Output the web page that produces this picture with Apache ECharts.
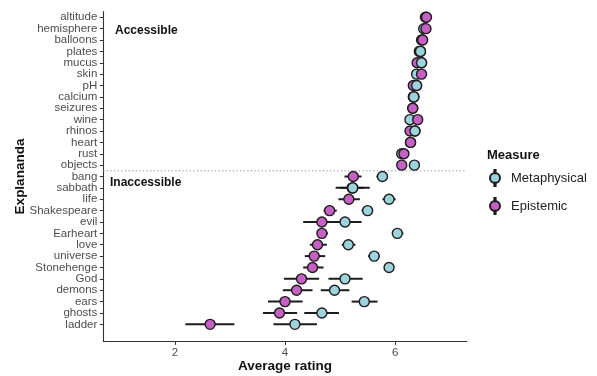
<!DOCTYPE html>
<html>
<head>
<meta charset="utf-8">
<script src="https://cdn.jsdelivr.net/npm/echarts@6/dist/echarts.min.js"></script>
<style>
html,body{margin:0;padding:0;background:#fff;}
#chart{width:597px;height:376px;}
</style>
</head>
<body>
<div id="chart"></div>
<script>
const categories = ['altitude','hemisphere','balloons','plates','mucus','skin','pH','calcium','seizures','wine','rhinos','heart','rust','objects','bang','sabbath','life','Shakespeare','evil','Earheart','love','universe','Stonehenge','God','demons','ears','ghosts','ladder'];

const metaMean = [6.55,6.52,6.48,6.46,6.48,6.39,6.39,6.34,6.32,6.27,6.36,6.28,6.12,6.35,5.77,5.23,5.89,5.50,5.09,6.04,5.15,5.62,5.89,5.09,4.90,5.44,4.67,4.18];
const metaLo   = [6.49,6.46,6.42,6.40,6.42,6.33,6.33,6.28,6.26,6.21,6.30,6.22,6.06,6.29,5.66,4.92,5.77,5.39,4.79,5.95,5.03,5.51,5.81,4.79,4.65,5.21,4.35,3.79];
const metaHi   = [6.61,6.58,6.54,6.52,6.54,6.45,6.45,6.40,6.38,6.33,6.42,6.34,6.18,6.41,5.87,5.54,6.01,5.60,5.39,6.15,5.28,5.72,5.98,5.41,5.17,5.68,4.98,4.58];

const epiMean = [6.57,6.56,6.50,6.44,6.40,6.48,6.33,6.33,6.32,6.41,6.27,6.28,6.16,6.12,5.24,5.22,5.16,4.81,4.67,4.67,4.59,4.53,4.50,4.30,4.21,4.00,3.90,2.64];
const epiLo   = [6.51,6.50,6.44,6.38,6.34,6.42,6.27,6.27,6.26,6.35,6.21,6.22,6.10,6.06,5.08,5.00,4.97,4.70,4.33,4.58,4.45,4.36,4.33,3.98,3.96,3.69,3.60,2.19];
const epiHi   = [6.63,6.62,6.56,6.50,6.46,6.54,6.39,6.39,6.38,6.47,6.33,6.34,6.22,6.18,5.39,5.44,5.36,4.94,5.01,4.78,4.76,4.73,4.70,4.62,4.50,4.32,4.22,3.08];

// rows where the Metaphysical point is drawn above the Epistemic one
const metaOnTop = ['plates','mucus','pH','calcium','rhinos','sabbath'];

// the dotted separator runs between these two rows
const separatorRows = ['objects', 'bang'];

const xTicks = [2, 4, 6];
const groupLabels = ['Accessible', 'Inaccessible'];

const META_COLOR = '#9dd3dc';
const EPI_COLOR = '#c660c5';
const EDGE = '#1c1c1c';
const FONT = '"Liberation Sans", Arial, Helvetica, sans-serif';

// one empty band below the last row reproduces the reference's bottom padding
const yCats = categories.concat(['']);

const metaPts = metaMean.map((v, i) => [v, i]);
const epiPts = epiMean.map((v, i) => [v, i]);
const metaTopPts = metaMean.map((v, i) => [v, i]).filter(p => metaOnTop.includes(categories[p[1]]));
const metaBars = metaMean.map((v, i) => [metaLo[i], metaHi[i], i]);
const epiBars = epiMean.map((v, i) => [epiLo[i], epiHi[i], i]);
const sepData = [[categories.indexOf(separatorRows[0]), categories.indexOf(separatorRows[1])]];

function barRender(params, api) {
  const y = api.value(2);
  const a = api.coord([api.value(0), y]);
  const b = api.coord([api.value(1), y]);
  return {type: 'line', shape: {x1: a[0], y1: a[1], x2: b[0], y2: b[1]},
          style: {stroke: EDGE, lineWidth: 2}};
}

function sepRender(params, api) {
  const cs = params.coordSys;
  const y0 = api.coord([xTicks[0], api.value(0)])[1];
  const y1 = api.coord([xTicks[0], api.value(1)])[1];
  const y = (y0 + y1) / 2;
  return {type: 'line', shape: {x1: cs.x, y1: y, x2: cs.x + cs.width, y2: y},
          style: {stroke: '#8a8a8a', lineWidth: 1, lineDash: [1.2, 2.4]}};
}

const legendIcon = 'path://M4.4,0 H5.6 V3.2 H4.4 Z M0,8 A5,5 0 1 0 10,8 A5,5 0 1 0 0,8 Z M4.4,12.8 H5.6 V16 H4.4 Z';

const chart = echarts.init(document.getElementById('chart'), null, {renderer: 'canvas'});
const option = {
  animation: false,
  backgroundColor: '#ffffff',
  textStyle: {fontFamily: FONT},
  grid: {left: 103.3, right: 130.3, top: 11.6, bottom: 34.6, containLabel: false, outerBoundsMode: 'none'},
  xAxis: {
    type: 'value', min: 0.7, max: 7.3, position: 'bottom',
    name: 'Average rating', nameLocation: 'middle', nameGap: 18, nameMoveOverlap: false,
    nameTextStyle: {fontFamily: FONT, fontSize: 13.5, fontWeight: 'bold', color: '#111'},
    axisLine: {show: true, onZero: false, lineStyle: {color: '#333', width: 1.1}},
    axisTick: {show: true, length: 3.5, lineStyle: {color: '#333'}, customValues: xTicks},
    axisLabel: {customValues: xTicks, fontFamily: FONT, fontSize: 11.5, color: '#4d4d4d', margin: 5},
    splitLine: {show: false}
  },
  yAxis: {
    type: 'category', data: yCats, inverse: true, position: 'left',
    name: 'Explananda', nameLocation: 'middle', nameGap: 76, nameRotate: 90, nameMoveOverlap: false,
    nameTextStyle: {fontFamily: FONT, fontSize: 13.5, fontWeight: 'bold', color: '#111'},
    axisLine: {show: true, onZero: false, lineStyle: {color: '#333', width: 1.1}},
    axisTick: {show: true, length: 3.5, alignWithLabel: true, lineStyle: {color: '#333'},
               interval: (index, value) => value !== ''},
    axisLabel: {interval: 0, fontFamily: FONT, fontSize: 11.5, color: '#4d4d4d', margin: 6},
    splitLine: {show: false}
  },
  legend: {
    data: ['Metaphysical', 'Epistemic'],
    orient: 'vertical', left: 484, top: 164,
    itemWidth: 10, itemHeight: 16, itemGap: 10,
    icon: legendIcon,
    textStyle: {fontFamily: FONT, fontSize: 13, color: '#222', padding: [0, 0, 0, 6]}
  },
  graphic: [
    {type: 'text', left: 487, top: 149, style: {text: 'Measure', font: 'bold 13px ' + FONT, fill: '#111'}},
    {type: 'text', left: 115, top: 25, style: {text: groupLabels[0], font: 'bold 12px ' + FONT, fill: '#111'}},
    {type: 'text', left: 110, top: 177, style: {text: groupLabels[1], font: 'bold 12px ' + FONT, fill: '#111'}}
  ],
  series: [
    {type: 'custom', name: 'separator', renderItem: sepRender, data: sepData,
     encode: {y: [0, 1]}, z: 1, silent: true, clip: false},
    {type: 'custom', name: 'metaBars', renderItem: barRender, data: metaBars,
     encode: {x: [0, 1], y: 2}, z: 2, silent: true},
    {type: 'custom', name: 'epiBars', renderItem: barRender, data: epiBars,
     encode: {x: [0, 1], y: 2}, z: 2, silent: true},
    {type: 'scatter', name: 'Metaphysical', data: metaPts, symbolSize: 10, z: 3,
     itemStyle: {color: META_COLOR, borderColor: EDGE, borderWidth: 1.4, opacity: 1}},
    {type: 'scatter', name: 'Epistemic', data: epiPts, symbolSize: 10, z: 4,
     itemStyle: {color: EPI_COLOR, borderColor: EDGE, borderWidth: 1.4, opacity: 1}},
    {type: 'scatter', name: 'Metaphysical', data: metaTopPts, symbolSize: 10, z: 5,
     itemStyle: {color: META_COLOR, borderColor: EDGE, borderWidth: 1.4, opacity: 1}}
  ]
};
chart.setOption(option);
</script>
</body>
</html>
